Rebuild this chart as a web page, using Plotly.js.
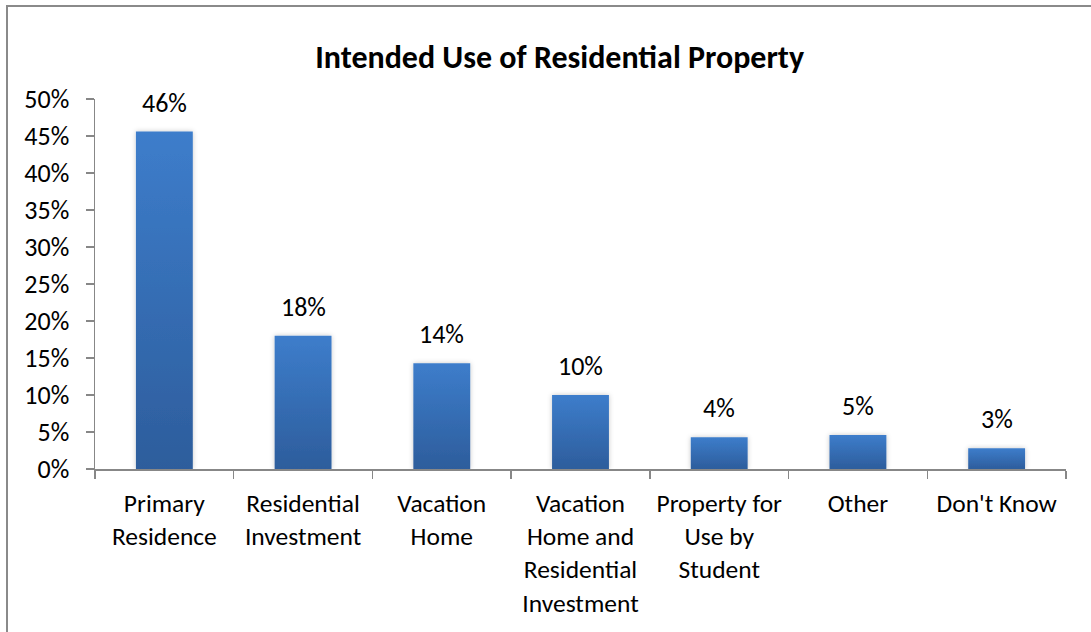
<!DOCTYPE html>
<html>
<head>
<meta charset="utf-8">
<script src="https://cdn.plot.ly/plotly-3.0.1.min.js"></script>
<style>
  html, body { margin: 0; padding: 0; background: #fff; }
  #wrap { position: relative; width: 1091px; height: 632px; overflow: hidden; }
  #chart { position: absolute; left: 0; top: 0; width: 1091px; height: 632px; }
  #frame { position: absolute; left: 6px; top: 5px; width: 1200px; height: 700px;
           border-left: 2px solid #8a8a8a; border-top: 2px solid #8a8a8a; pointer-events: none; }
</style>
</head>
<body>
<div id="wrap">
  <div id="chart"></div>
  <div id="frame"></div>
</div>
<script>
const categories = [
  "Primary<br>Residence",
  "Residential<br>Investment",
  "Vacation<br>Home",
  "Vacation<br>Home and<br>Residential<br>Investment",
  "Property for<br>Use by<br>Student",
  "Other",
  "Don't Know"
];
const values = [0.456, 0.180, 0.143, 0.100, 0.043, 0.046, 0.028];
const valueLabels = ["46%", "18%", "14%", "10%", "4%", "5%", "3%"];
const yTickVals = [0, 0.05, 0.10, 0.15, 0.20, 0.25, 0.30, 0.35, 0.40, 0.45, 0.50];
const yTickText = ["0%", "5%", "10%", "15%", "20%", "25%", "30%", "35%", "40%", "45%", "50%"];

const FONT = "Carlito, Calibri, Lato, 'Open Sans', sans-serif";

const trace = {
  type: "bar",
  x: categories,
  y: values,
  marker: { color: "#3670b8", line: { width: 0 } },
  hoverinfo: "skip"
};

const annotations = categories.map((c, i) => ({
  x: c, y: values[i], xref: "x", yref: "y",
  text: valueLabels[i], showarrow: false,
  yanchor: "bottom", yshift: 11,
  font: { family: FONT, size: 26, color: "#000" }
}));

const layout = {
  width: 1091, height: 632,
  margin: { l: 95, r: 25, t: 99, b: 163 },
  paper_bgcolor: "rgba(0,0,0,0)",
  plot_bgcolor: "rgba(0,0,0,0)",
  showlegend: false,
  bargap: 0.59,
  font: { family: FONT, size: 26, color: "#000" },
  title: {
    text: "<b>Intended Use of Residential Property</b>",
    font: { family: FONT, size: 32, color: "#000" },
    x: 0.513, xref: "container", xanchor: "center",
    y: 0.91, yref: "container", yanchor: "middle"
  },
  xaxis: {
    type: "category",
    showline: true, linecolor: "#878787", linewidth: 1.5,
    ticks: "outside", ticklen: 8, tickcolor: "#878787", tickwidth: 1.5,
    tickson: "boundaries",
    showgrid: false, zeroline: false,
    tickfont: { family: FONT, size: 25.5, color: "#000" },
    ticklabelstandoff: 11,
    fixedrange: true
  },
  yaxis: {
    range: [0, 0.5],
    tickvals: yTickVals, ticktext: yTickText,
    showline: true, linecolor: "#878787", linewidth: 1.5,
    ticks: "outside", ticklen: 8, tickcolor: "#878787", tickwidth: 1.5,
    showgrid: false, zeroline: false,
    tickfont: { family: FONT, size: 26, color: "#000" },
    ticklabelstandoff: 11,
    fixedrange: true
  },
  annotations: annotations
};

Plotly.newPlot("chart", [trace], layout, { displayModeBar: false, staticPlot: true }).then(gd => {
  // vertical gradient fill for bars (styling only)
  const svg = gd.querySelector("svg.main-svg");
  const ns = "http://www.w3.org/2000/svg";
  let defs = svg.querySelector("defs");
  if (!defs) { defs = document.createElementNS(ns, "defs"); svg.insertBefore(defs, svg.firstChild); }
  const grad = document.createElementNS(ns, "linearGradient");
  grad.setAttribute("id", "barGrad");
  grad.setAttribute("x1", "0"); grad.setAttribute("y1", "0");
  grad.setAttribute("x2", "0"); grad.setAttribute("y2", "1");
  [["0%", "#3d7dcb"], ["100%", "#2d5d9c"]].forEach(([o, c]) => {
    const s = document.createElementNS(ns, "stop");
    s.setAttribute("offset", o); s.setAttribute("stop-color", c);
    grad.appendChild(s);
  });
  defs.appendChild(grad);
  const filt = document.createElementNS(ns, "filter");
  filt.setAttribute("id", "barShadow");
  filt.setAttribute("x", "-20%"); filt.setAttribute("y", "-20%");
  filt.setAttribute("width", "140%"); filt.setAttribute("height", "140%");
  filt.innerHTML = '<feDropShadow dx="0" dy="0" stdDeviation="2.5" flood-color="#000" flood-opacity="0.22"/>';
  defs.appendChild(filt);
  gd.querySelectorAll(".bars .point path").forEach(p => {
    p.style.fill = "url(#barGrad)";
    p.setAttribute("filter", "url(#barShadow)");
  });
});
</script>
</body>
</html>
